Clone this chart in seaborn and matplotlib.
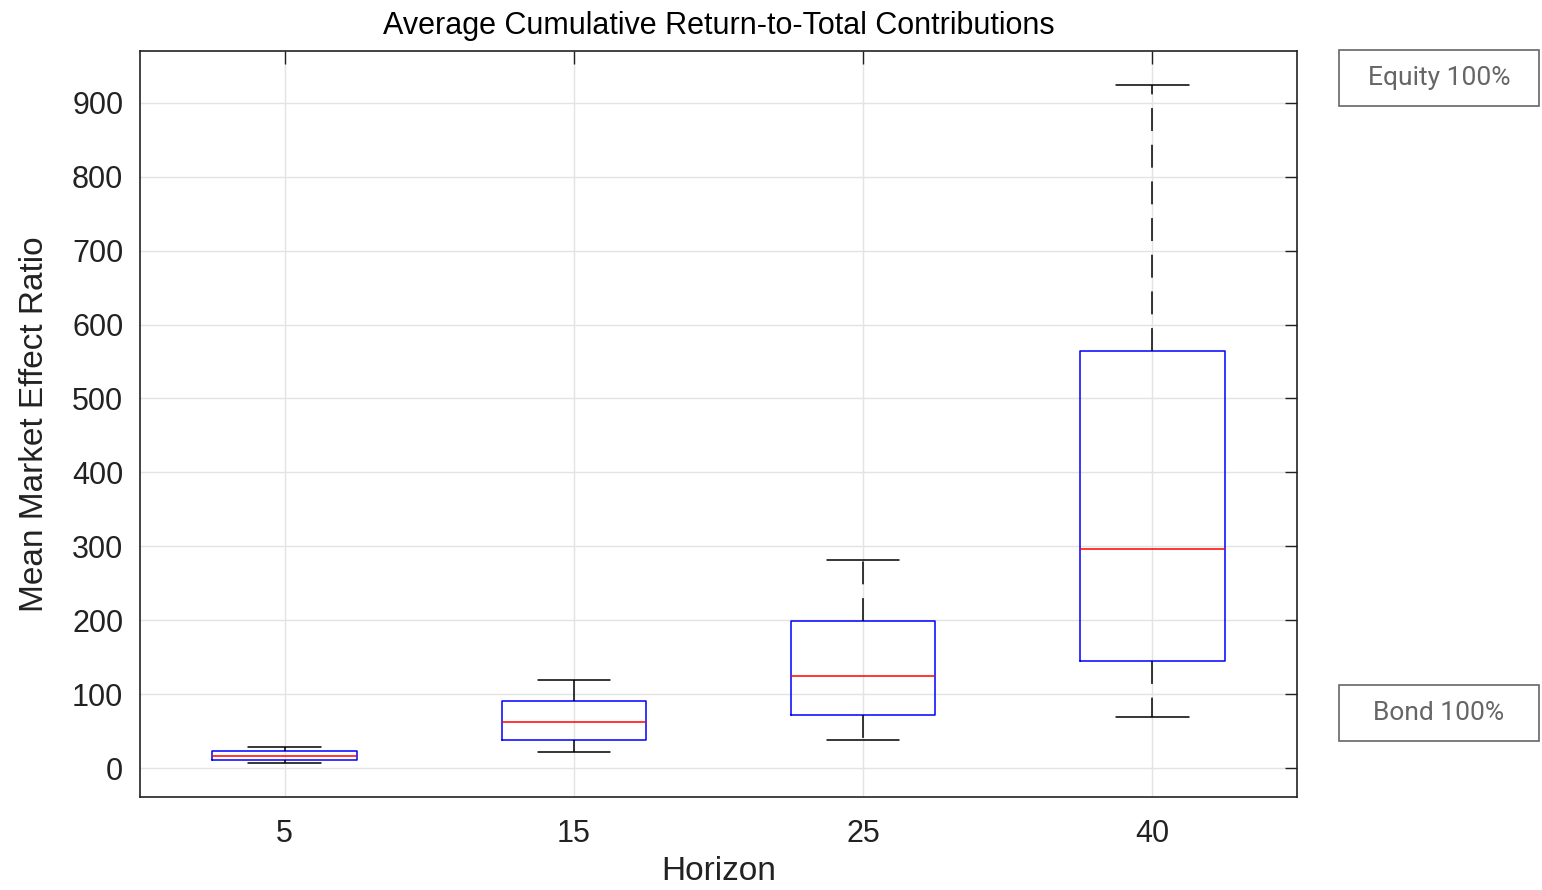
import numpy as np
import pandas as pd
import seaborn as sns
import matplotlib
matplotlib.use("Agg")
import matplotlib.pyplot as plt
from matplotlib.patches import Rectangle

# Data: five-number summaries per horizon (min, q1, median, q3, max)
horizons = ["5", "15", "25", "40"]
mins    = [7, 22, 38, 69]
q1s     = [11, 38, 72, 145]
medians = [17, 62, 124, 296]
q3s     = [23, 91, 199, 564]
maxs    = [28, 119, 281, 924]
yticks = [0, 100, 200, 300, 400, 500, 600, 700, 800, 900]
side_labels = ["Equity 100%", "Bond 100%"]

rows = []
for h, a, b, c, d, e in zip(horizons, mins, q1s, medians, q3s, maxs):
    for v in (a, b, c, d, e):
        rows.append({"Horizon": h, "Ratio": v})
df = pd.DataFrame(rows)

sns.set_style("white")
plt.rcParams["font.family"] = ["Liberation Sans", "DejaVu Sans"]

fig = plt.figure(figsize=(15.42, 8.90), dpi=100)
ax = fig.add_axes([140/1542, 1 - 797/890, 1157/1542, 746/890])

sns.boxplot(data=df, x="Horizon", y="Ratio", order=horizons, ax=ax,
            whis=np.inf, width=0.5, fill=False, linecolor="blue", linewidth=1.1,
            showfliers=False,
            boxprops=dict(color="blue", linewidth=1.1),
            medianprops=dict(color="red", linewidth=1.1),
            whiskerprops=dict(color="black", linewidth=1.1, linestyle=(0, (15, 9))),
            capprops=dict(color="black", linewidth=1.1))

ax.set_xlim(-0.5, 3.5)
ax.set_ylim(-39, 970)
ax.set_yticks(yticks)
ax.set_yticklabels([str(t) for t in yticks])
ax.set_axisbelow(True)
ax.grid(True, color="#e3e3e3", linewidth=1.0)
for s in ax.spines.values():
    s.set_color("#222222")
    s.set_linewidth(1.2)
ax.tick_params(direction="in", length=9, width=1.0, colors="#222222",
               top=True, right=True, labelsize=22)
ax.tick_params(axis="y", pad=12)
ax.tick_params(axis="x", pad=16)
ax.set_xlabel("Horizon", fontsize=24, color="#222222", labelpad=5)
ax.set_ylabel("Mean Market Effect Ratio", fontsize=24, color="#222222", labelpad=16)
ax.set_title("Average Cumulative Return-to-Total Contributions", fontsize=22,
             color="black", pad=12)

# Side labels in boxes
for lab, top in zip(side_labels, [50, 685]):
    x0, w, h = 1339, 200, 56
    fig.add_artist(Rectangle((x0/1542, 1 - (top + h)/890), w/1542, h/890,
                             transform=fig.transFigure, fill=False,
                             edgecolor="#666666", linewidth=1.2))
    fig.text((x0 + w/2)/1542, 1 - (top + h/2)/890, lab, ha="center", va="center",
             fontsize=19, color="#666666", family=["Roboto", "DejaVu Sans"])

fig.savefig("out.png", dpi=100)
